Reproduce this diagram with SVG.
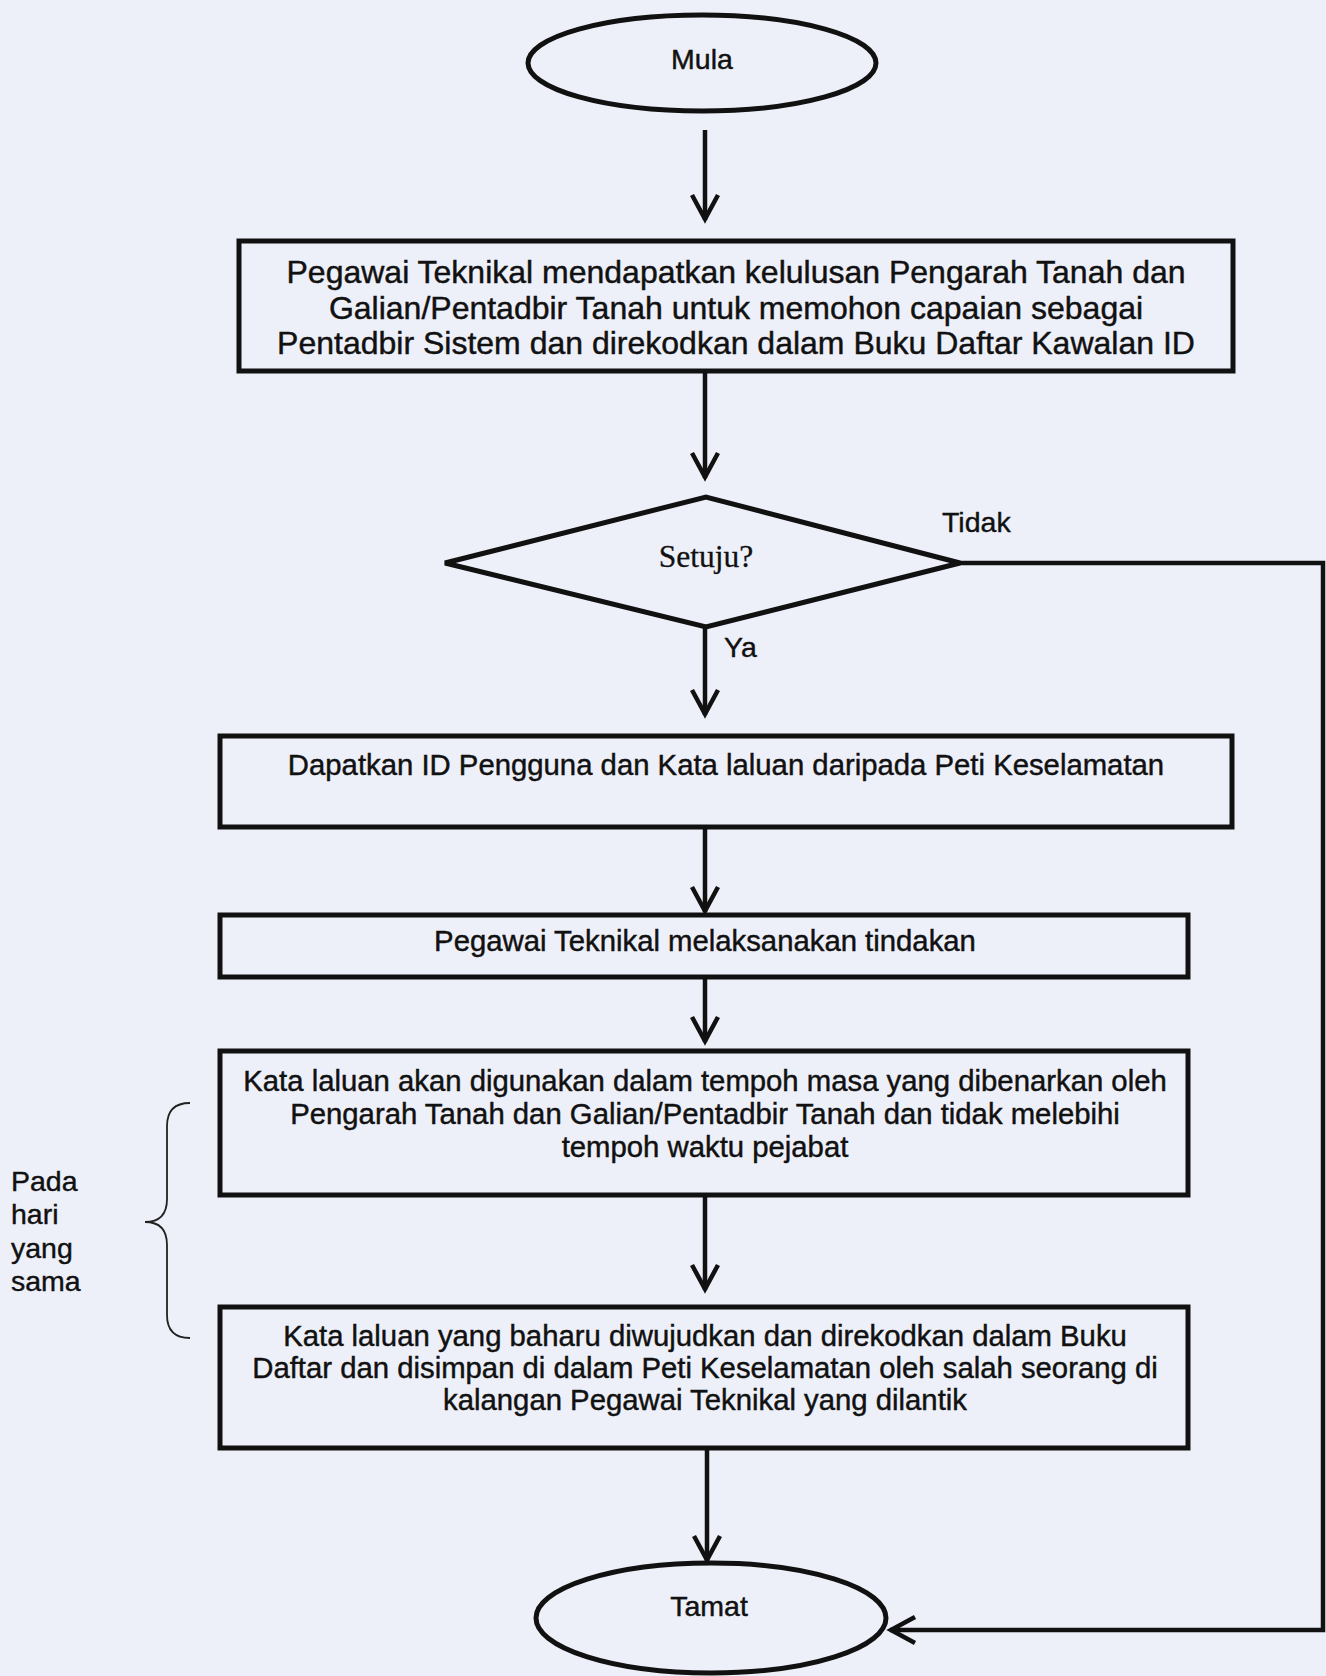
<svg xmlns="http://www.w3.org/2000/svg" width="1326" height="1676" viewBox="0 0 1326 1676">
<style>
.bg{fill:#eef0f9}
.box{fill:none;stroke:#111;stroke-width:5}
.term{fill:none;stroke:#111;stroke-width:5}
.dia{fill:none;stroke:#111;stroke-width:5;stroke-linejoin:miter}
.conn{fill:none;stroke:#111;stroke-width:4.5}
.t{font-family:"Liberation Sans",Arial,sans-serif;fill:#111;stroke:#111;stroke-width:0.45;text-anchor:middle}
.t1{font-size:32px}
.t2{font-size:29.3px}
.lbl{font-family:"Liberation Sans",Arial,sans-serif;fill:#111;stroke:#111;stroke-width:0.4;font-size:28.5px}
.serif{font-family:"Liberation Serif","Times New Roman",serif;fill:#111;stroke:#111;stroke-width:0.3;font-size:31.5px;text-anchor:middle}
</style>
<defs>
<marker id="ah" viewBox="-30 -17 34 34" refX="0" refY="0" markerWidth="34" markerHeight="34" markerUnits="userSpaceOnUse" orient="auto">
<path d="M -25 -13 L -1 0 L -25 13" fill="none" stroke="#111" stroke-width="4.5"/>
</marker>
</defs>
<rect class="bg" x="0" y="0" width="1326" height="1676"/>

<g id="connectors">
<line class="conn" x1="705" y1="130" x2="705" y2="220" marker-end="url(#ah)"/>
<line class="conn" x1="705" y1="373" x2="705" y2="478" marker-end="url(#ah)"/>
<line class="conn" x1="705" y1="627" x2="705" y2="715" marker-end="url(#ah)"/>
<line class="conn" x1="705" y1="829" x2="705" y2="912" marker-end="url(#ah)"/>
<line class="conn" x1="705" y1="979" x2="705" y2="1042" marker-end="url(#ah)"/>
<line class="conn" x1="705" y1="1197" x2="705" y2="1290" marker-end="url(#ah)"/>
<line class="conn" x1="707" y1="1450" x2="707" y2="1561" marker-end="url(#ah)"/>
<path class="conn" d="M 960 563 H 1323 V 1630 H 890" marker-end="url(#ah)"/>
<text class="lbl" x="942" y="532">Tidak</text>
<text class="lbl" x="724" y="657">Ya</text>
</g>

<g id="mula">
<ellipse class="term" cx="702" cy="63" rx="174" ry="48"/>
<text class="t" x="702" y="69" font-size="28.5">Mula</text>
</g>

<g id="box1">
<rect class="box" x="239" y="241" width="994" height="130"/>
<text class="t t1" x="736" y="283">Pegawai Teknikal mendapatkan kelulusan Pengarah Tanah dan</text>
<text class="t t1" x="736" y="319">Galian/Pentadbir Tanah untuk memohon capaian sebagai</text>
<text class="t t1" x="736" y="354">Pentadbir Sistem dan direkodkan dalam Buku Daftar Kawalan ID</text>
</g>

<g id="setuju">
<polygon class="dia" points="445,563 706,497 960,563 706,627"/>
<text class="serif" x="706" y="567">Setuju?</text>
</g>

<g id="box2">
<rect class="box" x="220" y="736" width="1012" height="91"/>
<text class="t t2" x="726" y="775">Dapatkan ID Pengguna dan Kata laluan daripada Peti Keselamatan</text>
</g>

<g id="box3">
<rect class="box" x="220" y="915" width="968" height="62"/>
<text class="t t2" x="705" y="951">Pegawai Teknikal melaksanakan tindakan</text>
</g>

<g id="box4">
<rect class="box" x="220" y="1051" width="968" height="144"/>
<text class="t t2" x="705" y="1091">Kata laluan akan digunakan dalam tempoh masa yang dibenarkan oleh</text>
<text class="t t2" x="705" y="1124">Pengarah Tanah dan Galian/Pentadbir Tanah dan tidak melebihi</text>
<text class="t t2" x="705" y="1157">tempoh waktu pejabat</text>
</g>

<g id="box5">
<rect class="box" x="220" y="1307" width="968" height="141"/>
<text class="t t2" x="705" y="1346">Kata laluan yang baharu diwujudkan dan direkodkan dalam Buku</text>
<text class="t t2" x="705" y="1378">Daftar dan disimpan di dalam Peti Keselamatan oleh salah seorang di</text>
<text class="t t2" x="705" y="1410">kalangan Pegawai Teknikal yang dilantik</text>
</g>

<g id="tamat">
<ellipse class="term" cx="711" cy="1618" rx="175" ry="55"/>
<text class="t" x="709" y="1616" font-size="28.5">Tamat</text>
</g>

<g id="brace">
<path d="M 190 1103 Q 167 1103 167 1126 L 167 1199 Q 167 1222 145 1222 Q 167 1222 167 1245 L 167 1315 Q 167 1338 190 1338" fill="none" stroke="#222" stroke-width="1.8"/>
<text class="lbl" x="11" y="1191">Pada</text>
<text class="lbl" x="11" y="1224">hari</text>
<text class="lbl" x="11" y="1258">yang</text>
<text class="lbl" x="11" y="1291">sama</text>
</g>
</svg>
